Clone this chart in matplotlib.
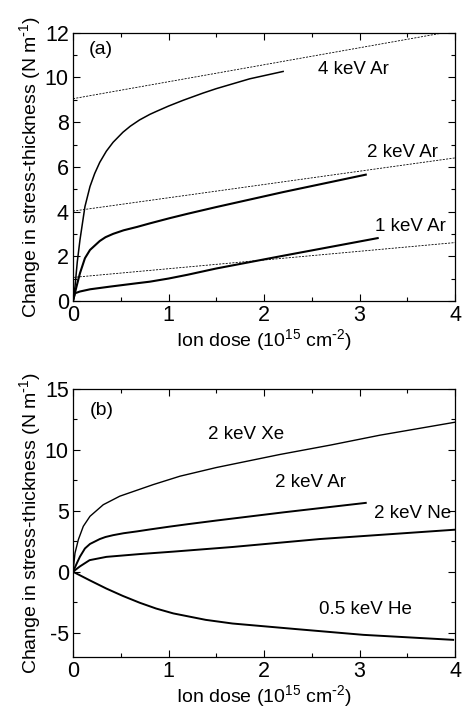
import matplotlib
matplotlib.use("Agg")
import matplotlib.pyplot as plt
from matplotlib.ticker import MultipleLocator

# stress-thickness vs ion dose

# (a) Ar at three energies
x_ar4 = [0, 0.021, 0.045, 0.073, 0.125, 0.178, 0.227, 0.28, 0.349, 0.42, 0.523, 0.6, 0.697,
         0.805, 0.872, 1.0, 1.154, 1.36, 1.5, 1.85, 2.2]
y_ar4 = [0, 0.64, 1.75, 2.73, 4.22, 5.12, 5.70, 6.2, 6.7, 7.1, 7.55, 7.82, 8.1,
         8.35, 8.48, 8.72, 8.98, 9.3, 9.5, 9.94, 10.27]

x_ar2 = [0, 0.038, 0.073, 0.125, 0.178, 0.28, 0.34, 0.42, 0.53, 0.67, 0.805, 1.01, 1.2, 1.5, 2.2, 3.065]
y_ar2 = [0, 0.66, 1.24, 1.91, 2.28, 2.68, 2.85, 3.0, 3.16, 3.31, 3.47, 3.70, 3.90, 4.20, 4.87, 5.65]

x_ar1 = [0, 0.02, 0.073, 0.18, 0.39, 0.67, 0.805, 1.0, 1.2, 1.5, 2.2, 3.19]
y_ar1 = [0, 0.34, 0.42, 0.52, 0.64, 0.79, 0.86, 1.0, 1.17, 1.45, 2.02, 2.81]

# linear fits (dotted): intercept, slope
fit_ar4 = (9.05, 0.76)
fit_ar2 = (4.02, 0.595)
fit_ar1 = (1.05, 0.39)

# (b) different ions at similar energy
x_xe = [0, 0.021, 0.056, 0.108, 0.178, 0.317, 0.49, 0.84, 1.12, 1.5, 2.165, 2.7, 3.21, 4.0]
y_xe = [0, 1.53, 2.63, 3.73, 4.55, 5.5, 6.2, 7.15, 7.84, 8.55, 9.62, 10.4, 11.2, 12.27]

x_ne = [0, 0.073, 0.174, 0.35, 0.70, 1.05, 1.67, 2.58, 4.0]
y_ne = [0, 0.44, 0.95, 1.22, 1.45, 1.65, 2.03, 2.68, 3.45]

x_he = [0, 0.174, 0.349, 0.52, 0.70, 0.87, 1.05, 1.39, 1.67, 2.34, 3.04, 3.98]
y_he = [0, -0.70, -1.38, -1.98, -2.55, -3.02, -3.42, -3.95, -4.25, -4.71, -5.18, -5.59]

plt.rcParams['font.family'] = ['Liberation Sans', 'DejaVu Sans']
plt.rcParams['font.size'] = 13
plt.rcParams['mathtext.default'] = 'regular'
plt.rcParams['axes.unicode_minus'] = False

xlab = "Ion dose (10$^{15}$ cm$^{\\text{-}2}$)"
ylab = "Change in stress-thickness (N m$^{\\text{-}1}$)"


def style_axes(ax):
    ax.set_xlim(0, 4)
    ax.xaxis.set_major_locator(MultipleLocator(1))
    ax.xaxis.set_minor_locator(MultipleLocator(0.5))
    ax.tick_params(which='both', direction='in', top=True, right=True)
    ax.tick_params(which='major', length=5, width=0.8, labelsize=15.5, pad=3)
    ax.tick_params(which='minor', length=3, width=0.8)
    for s in ax.spines.values():
        s.set_linewidth(0.9)
    ax.set_xlabel(xlab, fontsize=14, labelpad=1)
    ax.set_ylabel(ylab, fontsize=14, labelpad=1)


fig = plt.figure(figsize=(4.62, 7.13), dpi=100)

# panel (a)
ax1 = fig.add_axes([0.158, 0.578, 0.827, 0.376])
xs = [0, 4]
for b, m in [fit_ar4, fit_ar2, fit_ar1]:
    ax1.plot(xs, [b + m * v for v in xs], color='k', lw=0.6, ls=(0, (2.5, 1.5)))
ax1.plot(x_ar4, y_ar4, color='k', lw=1.1)
ax1.plot(x_ar2, y_ar2, color='k', lw=1.5)
ax1.plot(x_ar1, y_ar1, color='k', lw=1.5)
ax1.set_ylim(0, 12)
ax1.yaxis.set_major_locator(MultipleLocator(2))
ax1.yaxis.set_minor_locator(MultipleLocator(1))
style_axes(ax1)
ax1.text(0.16, 11.25, "(a)", va='center', ha='left', fontsize=14)
ax1.text(2.57, 10.34, "4 keV Ar", va='center', ha='left', fontsize=13.5)
ax1.text(3.08, 6.63, "2 keV Ar", va='center', ha='left', fontsize=13.5)
ax1.text(3.16, 3.33, "1 keV Ar", va='center', ha='left', fontsize=13.5)

# panel (b)
ax2 = fig.add_axes([0.158, 0.0785, 0.827, 0.376])
ax2.plot(x_xe, y_xe, color='k', lw=1.0)
ax2.plot(x_ar2, y_ar2, color='k', lw=1.4)
ax2.plot(x_ne, y_ne, color='k', lw=1.4)
ax2.plot(x_he, y_he, color='k', lw=1.4)
ax2.set_ylim(-7, 15)
ax2.yaxis.set_major_locator(MultipleLocator(5))
ax2.yaxis.set_minor_locator(MultipleLocator(2.5))
style_axes(ax2)
ax2.text(0.18, 13.2, "(b)", va='center', ha='left', fontsize=14)
ax2.text(1.41, 11.26, "2 keV Xe", va='center', ha='left', fontsize=13.5)
ax2.text(2.11, 7.29, "2 keV Ar", va='center', ha='left', fontsize=13.5)
ax2.text(3.15, 4.74, "2 keV Ne", va='center', ha='left', fontsize=13.5)
ax2.text(2.58, -3.12, "0.5 keV He", va='center', ha='left', fontsize=13.5)

fig.savefig("out.png", dpi=100)
